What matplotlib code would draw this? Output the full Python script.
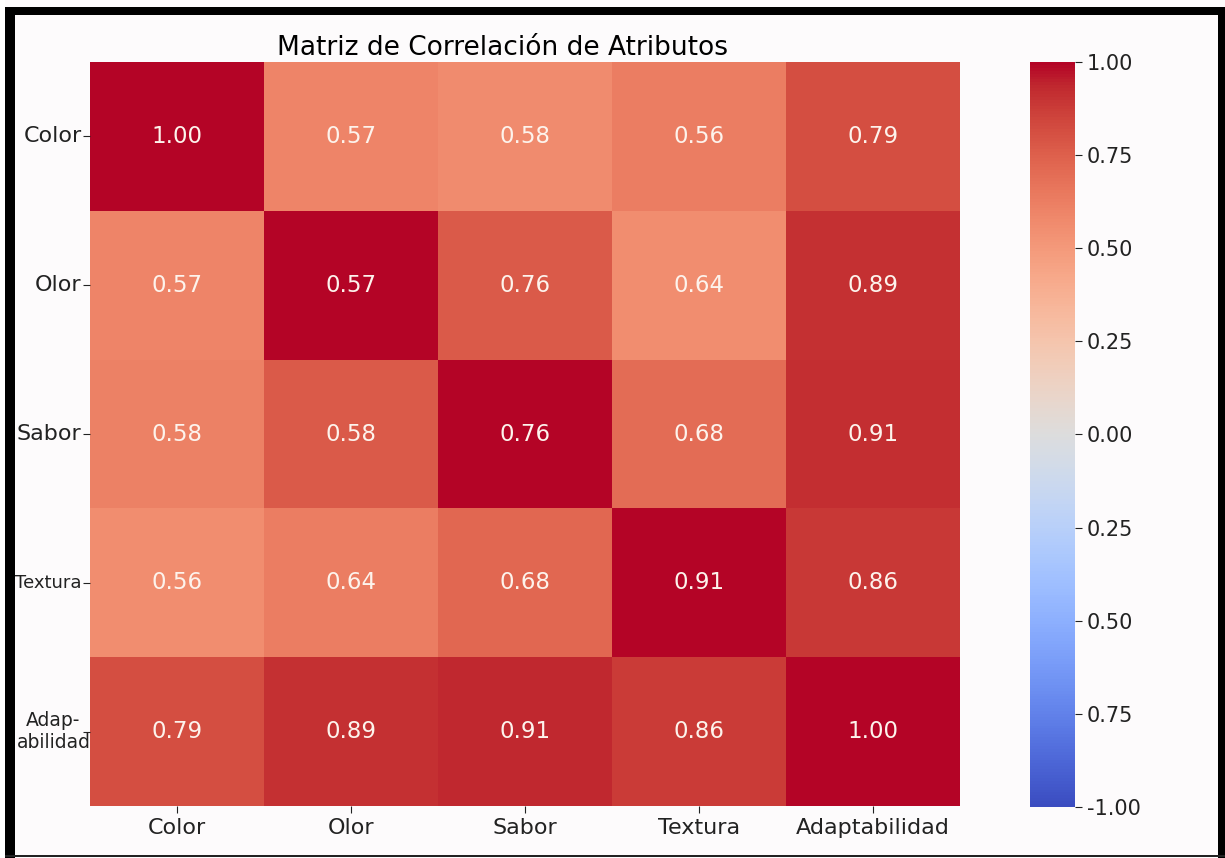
import matplotlib
matplotlib.use('Agg')
import matplotlib.pyplot as plt
from matplotlib.patches import Rectangle
import numpy as np
import seaborn as sns

# Attribute names
atributos = ['Color', 'Olor', 'Sabor', 'Textura', 'Adaptabilidad']
etiquetas_y = ['Color', 'Olor', 'Sabor', 'Textura', 'Adap-\nabilidad']

# Values used for the cell colours
colores = np.array([
    [1.00, 0.60, 0.57, 0.63, 0.82],
    [0.60, 1.00, 0.77, 0.56, 0.91],
    [0.61, 0.77, 1.00, 0.70, 0.92],
    [0.56, 0.63, 0.72, 1.00, 0.89],
    [0.82, 0.91, 0.93, 0.88, 1.00],
])

# Numbers printed in each cell
anotaciones = [
    ['1.00', '0.57', '0.58', '0.56', '0.79'],
    ['0.57', '0.57', '0.76', '0.64', '0.89'],
    ['0.58', '0.58', '0.76', '0.68', '0.91'],
    ['0.56', '0.64', '0.68', '0.91', '0.86'],
    ['0.79', '0.89', '0.91', '0.86', '1.00'],
]

# Colorbar ticks and the labels as they appear
cbar_ticks = [-1.0, -0.75, -0.5, -0.25, 0.0, 0.25, 0.5, 0.75, 1.0]
cbar_labels = ['-1.00', '0.75', '0.50', '0.25', '0.00', '0.25', '0.50', '0.75', '1.00']

W, H = 1225, 858
fig = plt.figure(figsize=(W / 100, H / 100), dpi=100)
fig.patch.set_facecolor('#fdfbfc')

ax = fig.add_axes([90 / W, 1 - 806 / H, 870 / W, 744 / H])
cax = fig.add_axes([1030 / W, 1 - 807 / H, 45 / W, 745 / H])

sns.heatmap(colores, annot=np.array(anotaciones), fmt='', cmap='coolwarm', vmin=-1, vmax=1,
            ax=ax, cbar_ax=cax, annot_kws={'size': 16.5, 'color': '#fdf3ec'},
            xticklabels=atributos, yticklabels=etiquetas_y)

ax.set_title('Matriz de Correlación de Atributos', fontsize=19, pad=5, x=0.474)
ax.tick_params(axis='x', labelsize=16, rotation=0, length=5, colors='#222222')
ax.tick_params(axis='y', labelsize=16, rotation=0, length=5, pad=1, colors='#222222')

# the last row label is centred on two lines and sits against the cells
ylabels = ax.get_yticklabels()
for lbl in ylabels:
    if lbl.get_text() == 'Textura':
        lbl.set_fontsize(13)
ultimo = ylabels[-1]
ultimo.set_visible(False)
ax.text(-0.042, ultimo.get_position()[1], etiquetas_y[-1], ha='center', va='center',
        multialignment='center', fontsize=13.5, color='#222222',
        transform=ax.get_yaxis_transform())

cax.set_yticks(cbar_ticks)
cax.set_yticklabels(cbar_labels)
cax.tick_params(labelsize=15, length=5, colors='#222222')

# Black frame of the screenshot
fig.patches.append(Rectangle((5 / W, 0), 10 / W, 1 - 7 / H, transform=fig.transFigure,
                             facecolor='black', edgecolor='none', zorder=10))
fig.patches.append(Rectangle((5 / W, 1 - 15 / H), 1, 8 / H, transform=fig.transFigure,
                             facecolor='black', edgecolor='none', zorder=10))
fig.patches.append(Rectangle((1 - 7 / W, 0), 7 / W, 1 - 7 / H, transform=fig.transFigure,
                             facecolor='black', edgecolor='none', zorder=10))
fig.patches.append(Rectangle((5 / W, 1 / H), 1, 2 / H, transform=fig.transFigure,
                             facecolor='#222222', edgecolor='none', zorder=10))
fig.patches.append(Rectangle((0, 0), 5 / W, 1, transform=fig.transFigure,
                             facecolor='white', edgecolor='none', zorder=9))

fig.savefig('out.png', dpi=100, facecolor=fig.get_facecolor())
